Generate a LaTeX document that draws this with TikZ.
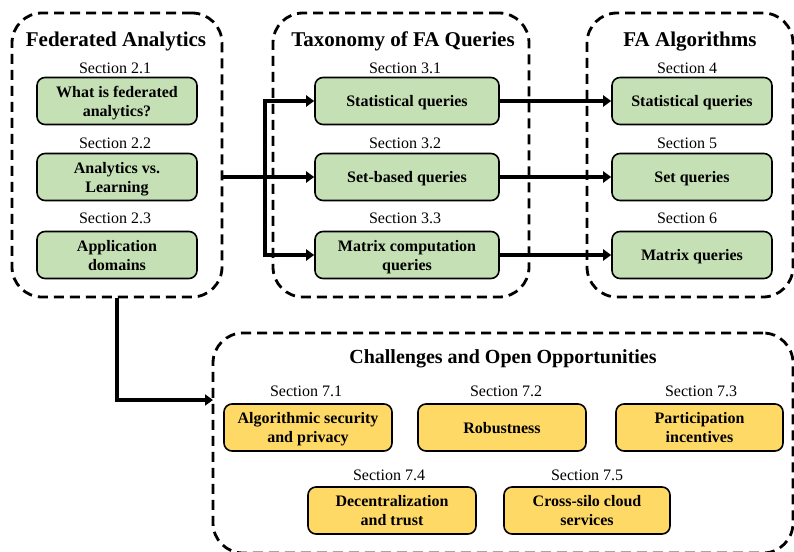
\documentclass[tikz,border=0pt]{standalone}
\usepackage{fontspec}
\setmainfont{Liberation Serif}
\usetikzlibrary{arrows.meta}
\definecolor{boxgreen}{HTML}{C5E0B4}
\definecolor{boxyellow}{HTML}{FFD966}
\begin{document}
\begin{tikzpicture}[x=1pt,y=-1pt,
 container/.style={draw, line width=2.8pt, dash pattern=on 10pt off 6pt, rounded corners=30pt, inner sep=0pt},
 gbox/.style={draw, line width=1.6pt, fill=boxgreen, rounded corners=8pt, minimum height=47pt, align=center, font=\fontsize{16}{19}\selectfont\bfseries, inner sep=0pt, text depth=0pt},
 ybox/.style={gbox, fill=boxyellow, minimum width=168pt},
 seclabel/.style={anchor=base, font=\fontsize{16}{19}\selectfont, inner sep=0pt},
 ttl/.style={anchor=base, font=\fontsize{21}{25}\selectfont\bfseries, inner sep=0pt},
 arr/.style={line width=3.6pt, -{Triangle[length=8pt,width=11pt]}},
 ]
\useasboundingbox (0,0) rectangle (794,551);

% containers
\node[container, minimum width=210pt, minimum height=284pt] (c1) at (117,155) {};
\node[container, minimum width=256pt, minimum height=284pt] (c2) at (401,155) {};
\node[container, minimum width=206pt, minimum height=284pt] (c3) at (690,155) {};
\node[container, minimum width=580pt, minimum height=220pt] (c4) at (503,443) {};

% titles
\node[ttl] (t1) at (116,46) {Federated Analytics};
\node[ttl] (t2) at (403,46) {Taxonomy of FA Queries};
\node[ttl] (t3) at (690,46) {FA Algorithms};
\node[ttl, font=\fontsize{20}{24}\selectfont\bfseries] (t4) at (503,363) {Challenges and Open Opportunities};

% column 1
\node[seclabel] (s21) at (115,74) {Section 2.1};
\node[gbox, minimum width=160pt] (f1) at (117,101) {What is federated\\analytics?};
\node[seclabel] (s22) at (115,148) {Section 2.2};
\node[gbox, minimum width=160pt] (f2) at (117,177) {Analytics vs.\\Learning};
\node[seclabel] (s23) at (115,223) {Section 2.3};
\node[gbox, minimum width=160pt] (f3) at (117,255) {Application\\domains};

% column 2
\node[seclabel] (s31) at (405,74) {Section 3.1};
\node[gbox, minimum width=184pt] (q1) at (407,101) {Statistical queries};
\node[seclabel] (s32) at (405,148) {Section 3.2};
\node[gbox, minimum width=184pt] (q2) at (407,177) {Set-based queries};
\node[seclabel] (s33) at (405,223) {Section 3.3};
\node[gbox, minimum width=184pt] (q3) at (407,255) {Matrix computation\\queries};

% column 3
\node[seclabel] (s4) at (687,74) {Section 4};
\node[gbox, minimum width=160pt] (a1) at (692,101) {Statistical queries};
\node[seclabel] (s5) at (687,148) {Section 5};
\node[gbox, minimum width=160pt] (a2) at (692,177) {Set queries};
\node[seclabel] (s6) at (687,223) {Section 6};
\node[gbox, minimum width=160pt] (a3) at (692,255) {Matrix queries};

% challenges
\node[seclabel] (s71) at (306,396) {Section 7.1};
\node[ybox] (y1) at (308,427.5) {Algorithmic security\\and privacy};
\node[seclabel] (s72) at (506,396) {Section 7.2};
\node[ybox] (y2) at (502,427.5) {Robustness};
\node[seclabel] (s73) at (701,396) {Section 7.3};
\node[ybox, minimum width=167pt] (y3) at (699.5,427.5) {Participation\\incentives};
\node[seclabel] (s74) at (389,480) {Section 7.4};
\node[ybox] (y4) at (392,510.5) {Decentralization\\and trust};
\node[seclabel] (s75) at (587,480) {Section 7.5};
\node[ybox, minimum width=166pt] (y5) at (587,510.5) {Cross-silo cloud\\services};

% connectors
\coordinate (bus) at (265,177);
\coordinate (e4) at (213,400);
\draw[arr] (c1.east |- q2.west) -- (q2.west);
\draw[arr] (bus) |- (q1.west);
\draw[arr] (bus) |- (q3.west);
\draw[arr] (q1.east) -- (a1.west);
\draw[arr] (q2.east) -- (a2.west);
\draw[arr] (q3.east) -- (a3.west);
\draw[arr] (c1.south) |- (e4);
\end{tikzpicture}
\end{document}
